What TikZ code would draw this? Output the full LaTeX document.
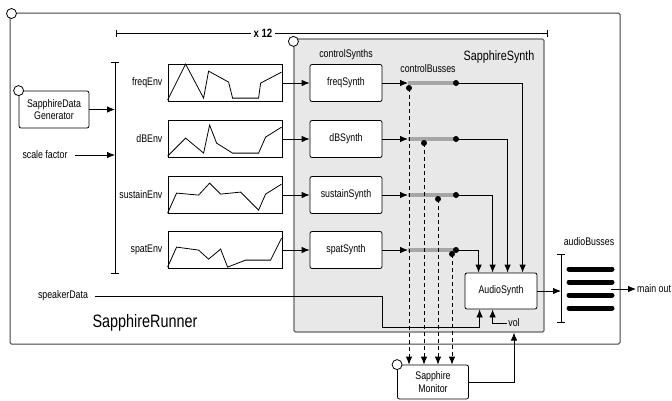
\documentclass[tikz,border=0pt]{standalone}
\usepackage{fontspec}
\setmainfont{Liberation Sans}[FakeStretch=0.8]
\usetikzlibrary{arrows.meta,positioning,calc}

\begin{document}
\begin{tikzpicture}[
  x=1pt, y=-1pt,
  font=\fontsize{11}{12.5}\selectfont,
  frame/.style={rectangle, draw=black!75, line width=1pt, rounded corners=1.5pt},
  synthframe/.style={rectangle, draw=black!60, fill=black!9, line width=1.2pt,
                     rounded corners=1.5pt},
  synthbox/.style={rectangle, draw, rounded corners=2pt, fill=white, align=center,
                   minimum width=72pt, minimum height=37pt, line width=0.8pt},
  envbox/.style={rectangle, draw, fill=white, minimum width=114pt,
                 minimum height=37pt, line width=0.8pt},
  lbl/.style={inner sep=1pt},
  port/.style={draw, fill=white, line width=0.8pt},
  arr/.style={draw, -{Latex[length=8pt,width=6.5pt]}, line width=0.8pt},
  bracket/.style={{Bar[width=8pt]}-{Bar[width=8pt]}, line width=0.8pt},
  bus/.style={line width=4pt, black!35},
  audiobus/.style={line width=5pt, line cap=round}
]
\useasboundingbox (0,0) rectangle (672,400);

% containers
\node[frame, minimum width=610pt, minimum height=331pt] (runner) at (315,178.5) {};
\node[synthframe, minimum width=250pt, minimum height=293pt] (ssynth) at (419,185.5) {};
\draw[port] ($(runner.north west)+(2,1)$) circle (5pt);
\draw[port] ($(ssynth.north west)+(0,3)$) circle (5pt);
\node[font=\fontsize{18}{20}\selectfont] (runlbl) at (145,323) {SapphireRunner};
\node[font=\fontsize{13.5}{15}\selectfont] (synlbl) at (499,57) {SapphireSynth};

% repeat marker
\coordinate (repL) at (116,33);
\coordinate (repR) at (548,33);
\draw[{Bar[width=7pt]}-{Bar[width=7pt]}, line width=0.8pt] (repL) --
  node[pos=0.34, fill=white, inner sep=3pt, font=\bfseries\fontsize{12}{14}\selectfont] {x 12} (repR);

% inputs
\node[synthbox, minimum width=70pt] (gen) at (54,109.5) {SapphireData\\Generator};
\draw[port] (gen.north west) circle (5pt);
\node[lbl] (scale) at (45,155) {scale factor};
\node[lbl] (spk) at (63,296) {speakerData};
\coordinate (brT) at (115,62);
\coordinate (brB) at (115,274);
\draw[bracket] (brT) -- (brB);
\draw[arr] (gen.east) -- (gen.east -| brT);
\draw[arr] ($(scale.east)+(6,0)$) -- (scale.east -| brT);

% envelopes
\node[envbox] (fenv) at (225,83) {};
\node[envbox] (denv) at (225,139) {};
\node[envbox] (senv) at (225,195) {};
\node[envbox] (penv) at (225,250) {};
\node[lbl, left=4pt of fenv] {freqEnv};
\node[lbl, left=4pt of denv] {dBEnv};
\node[lbl, left=4pt of senv] {sustainEnv};
\node[lbl, left=4pt of penv] {spatEnv};
\draw[line width=0.8pt, shift={(fenv.north west)}] (0,36) -- (18,0) -- (36,34) -- (41,7)
  -- (61,18) -- (65,34) -- (91,34) -- (93,19) -- (114,8);
\draw[line width=0.8pt, shift={(denv.north west)}] (0,36) -- (18,18) -- (36,33) -- (42,5)
  -- (49,23) -- (65,33) -- (91,33) -- (98,17) -- (114,7);
\draw[line width=0.8pt, shift={(senv.north west)}] (0,37) -- (9,17) -- (31,19) -- (42,7)
  -- (53,18) -- (73,16) -- (91,34) -- (98,18) -- (114,8);
\draw[line width=0.8pt, shift={(penv.north west)}] (0,36) -- (9,16) -- (31,19) -- (41,28)
  -- (53,18) -- (60,36) -- (78,29) -- (103,29) -- (114,7);

% control synths
\node[synthbox] (fsyn) at (346,83) {freqSynth};
\node[synthbox] (dsyn) at (346,139) {dBSynth};
\node[synthbox] (ssyn) at (346,195) {sustainSynth};
\node[synthbox] (psyn) at (346,250) {spatSynth};
\node[lbl, above=3pt of fsyn] {controlSynths};
\draw[arr] (fenv) -- (fsyn);
\draw[arr] (denv) -- (dsyn);
\draw[arr] (senv) -- (ssyn);
\draw[arr] (penv) -- (psyn);

% control busses
\node[lbl] (cblbl) at (428,69) {controlBusses};
\coordinate (fbA) at (408,83);  \coordinate (fbB) at (456,83);
\coordinate (dbA) at (408,139); \coordinate (dbB) at (456,139);
\coordinate (sbA) at (408,195); \coordinate (sbB) at (456,195);
\coordinate (pbA) at (408,250); \coordinate (pbB) at (456,250);
\draw[bus] (fbA) -- (fbB);
\draw[bus] (dbA) -- (dbB);
\draw[bus] (sbA) -- (sbB);
\draw[bus] (pbA) -- (pbB);
\draw[arr] (fsyn) -- (fbA);
\draw[arr] (dsyn) -- (dbA);
\draw[arr] (ssyn) -- (sbA);
\draw[arr] (psyn) -- (pbA);
\coordinate (ftap) at (409,88);
\coordinate (dtap) at (424,143);
\coordinate (stap) at (438,199);
\coordinate (ptap) at (452,254);

% audio synth and monitor
\node[synthbox, minimum height=36pt] (audio) at (501,291) {AudioSynth};
\node[synthbox, minimum width=71pt, minimum height=34pt] (mon) at (433,382) {Sapphire\\Monitor};
\draw[port] (mon.north west) circle (5pt);
\draw[arr] (fbB) -| ($(audio.north west)+(58,0)$);
\draw[arr] (dbB) -| ($(audio.north west)+(43,0)$);
\draw[arr] (sbB) -| ($(audio.north west)+(28,0)$);
\draw[arr] (pbB) -| ($(audio.north west)+(14,0)$);
\draw[arr, dash pattern=on 4pt off 3pt] (ftap) -- (ftap |- mon.north);
\draw[arr, dash pattern=on 4pt off 3pt] (dtap) -- (dtap |- mon.north);
\draw[arr, dash pattern=on 4pt off 3pt] (stap) -- (stap |- mon.north);
\draw[arr, dash pattern=on 4pt off 3pt] (ptap) -- (ptap |- mon.north);
\foreach \c in {fbB,dbB,sbB,pbB,ftap,dtap,stap,ptap}
  \fill (\c) circle (3pt);

\coordinate (spkturn) at (382,327);
\draw[arr] ($(spk.east)+(6,0)$) -| (spkturn) -| ($(audio.south west)+(15,0)$);
\node[lbl] (vol) at (514,323) {vol};
\draw[arr] (vol.west) -| ($(audio.south west)+(28,0)$);
\draw[arr] (mon.east) -| (vol |- ssynth.south);

% audio busses
\node[lbl] (ablbl) at (589,242) {audioBusses};
\coordinate (abT) at (561,254);
\coordinate (abB) at (561,323);
\draw[bracket] (abT) -- (abB);
\draw[arr] (audio.east) -- (audio.east -| abT);
\draw[audiobus] (569,269) -- (612,269);
\draw[audiobus] (569,282) -- (612,282);
\draw[audiobus] (569,295) -- (612,295);
\draw[audiobus] (569,308) -- (612,308);
\coordinate (outstart) at (611,289);
\node[lbl, anchor=west] (out) at (636,289) {main out};
\draw[arr] (outstart) -- (out.west);
\end{tikzpicture}
\end{document}
